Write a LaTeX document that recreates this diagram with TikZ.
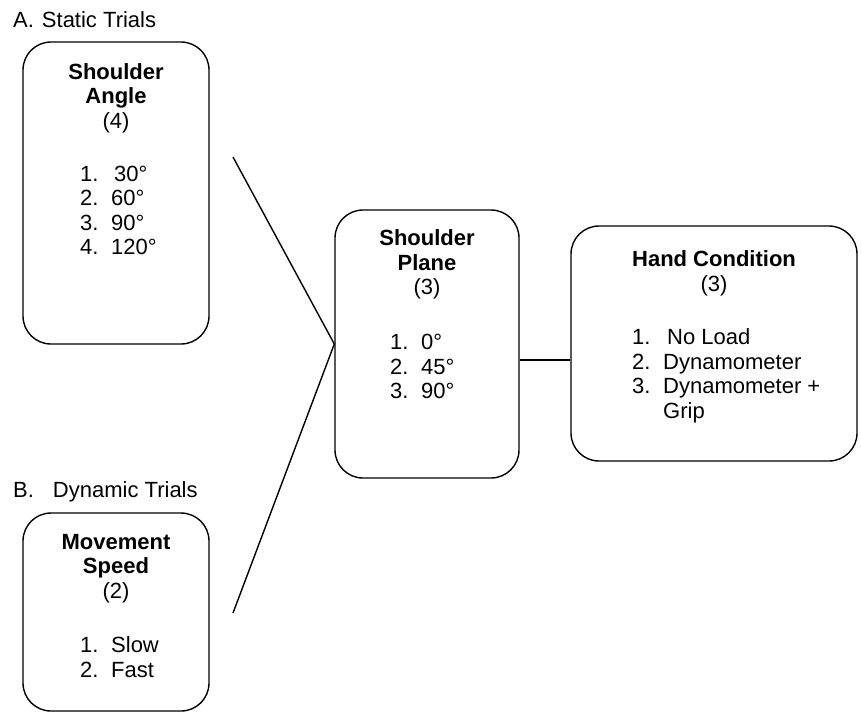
\documentclass[tikz,border=0pt]{standalone}
\usepackage{fontspec}
\setmainfont{Liberation Sans}
\newcommand{\itm}[2]{\makebox[31pt][l]{#1}#2}

\begin{document}
\begin{tikzpicture}[x=1pt,y=-1pt,
  box/.style={draw=black,line width=1.4pt,rounded corners=28pt,inner sep=0pt},
  ttl/.style={anchor=base,align=center,inner sep=0pt,font=\fontsize{22}{24.5}\selectfont},
  lst/.style={anchor=base west,align=left,inner sep=0pt,font=\fontsize{22}{24.5}\selectfont},
  lbl/.style={anchor=base west,inner sep=0pt,font=\fontsize{22}{24.5}\selectfont},
  link/.style={black,line width=1.4pt}]
  \useasboundingbox (0,0) rectangle (861,713);
  % static trials
  \node[lbl] (statlbl) at (13,27) {A.\hspace{8pt}Static Trials};
  \node[box,minimum width=186pt,minimum height=302pt] (angle) at (116,193) {};
  \node[ttl] (anglettl) at (116,128) {\textbf{Shoulder}\\\textbf{Angle}\\(4)};
  \node[lst] (anglelst) at (80,254.5) {\itm{1.}{\hspace{3pt}30°}\\\itm{2.}{60°}\\\itm{3.}{90°}\\\itm{4.}{120°}};
  % dynamic trials
  \node[lbl] (dynlbl) at (13,497) {B.\hspace{19pt}Dynamic Trials};
  \node[box,minimum width=186pt,minimum height=198pt] (speed) at (116,612) {};
  \node[ttl] (speedttl) at (116,598) {\textbf{Movement}\\\textbf{Speed}\\(2)};
  \node[lst] (speedlst) at (80,677) {\itm{1.}{Slow}\\\itm{2.}{Fast}};
  % shoulder plane
  \node[box,minimum width=184pt,minimum height=268pt] (plane) at (427,344) {};
  \node[ttl] (planettl) at (427,294.5) {\textbf{Shoulder}\\\textbf{Plane}\\(3)};
  \node[lst] (planelst) at (390,398.5) {\itm{1.}{0°}\\\itm{2.}{45°}\\\itm{3.}{90°}};
  % hand condition
  \node[box,minimum width=286pt,minimum height=235pt] (hand) at (714,343.5) {};
  \node[ttl] (handttl) at (714,291) {\textbf{Hand Condition}\\(3)};
  \node[lst] (handlst) at (632,418) {\itm{1.}{\hspace{4pt}No Load}\\\itm{2.}{Dynamometer}\\\itm{3.}{Dynamometer +}\\\itm{}{Grip}};
  % connectors
  \coordinate (angleend) at (233,157);
  \coordinate (speedend) at (233,613);
  \draw[link] (angleend) -- (plane.west) -- (speedend);
  \draw[link] ([yshift=-16pt]plane.east) -- ([yshift=-16pt]plane.east -| hand.west);
\end{tikzpicture}
\end{document}
